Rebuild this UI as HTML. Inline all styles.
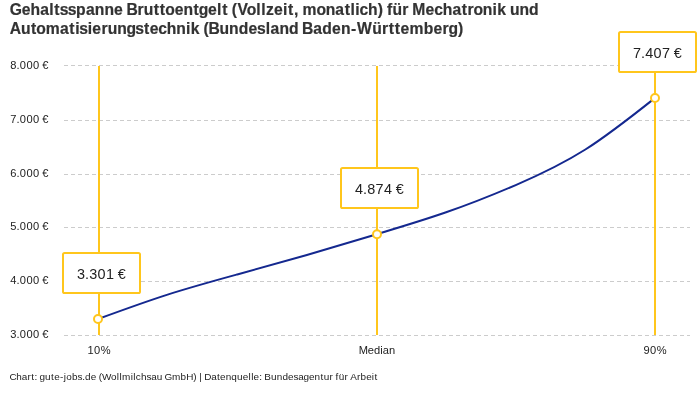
<!DOCTYPE html>
<html lang="de"><head><meta charset="utf-8"><title>Gehaltsspanne Mechatronik und Automatisierungstechnik</title>
<style>html,body{margin:0;padding:0;background:#fff;overflow:hidden}svg{display:block}text{font-family:"Liberation Sans",sans-serif;white-space:pre}</style>
</head><body>
<svg width="700" height="400" viewBox="0 0 700 400">
<defs><pattern id="dash" x="64" y="0" width="7" height="1" patternUnits="userSpaceOnUse"><rect x="0" y="0" width="4" height="1" fill="#cccccc"/></pattern></defs>
<rect width="700" height="400" fill="#fff"/>
<text x="9.66 21.64 30.47 40.22 49.33 54.35 59.64 67.65 76.12 85.96 94.86 104.39 114.08 122.65 126.4 137.57 143.83 153.81 159.87 165.22 174.66 183.5 193.5 198.75 208.05 217.11 222.13 227.51 231.83 237.57 246.87 256.36 261.19 265.96 274.07 283.04 287.96 293.93 298.29 302.55 316.39 325.67 335.37 344.69 350.61 355.32 359.57 368.04 377.69 382.72 387.05 392.54 402.27 408.26 412.36 425.57 434.21 442.68 452.38 461.7 467.52 473.48 482.76 492.43 497.15 505.83 509.88 519.42 529.05" y="14.8" font-size="15.68" font-weight="bold" fill="#333333" stroke="#333333" stroke-width="0.2">Gehaltsspanne Bruttoentgelt (Vollzeit, monatlich) für Mechatronik und</text>
<text x="9.82 20.93 30.91 36.28 45.76 60.03 69.34 75.13 79.27 87.77 92.37 101.41 107.67 117.21 126.39 135.21 143.96 149.73 158.36 166.84 176.37 186.04 190.76 199.45 203.61 208.6 219.57 229.11 238.75 248.53 257.07 265.7 270.5 279.39 289.02 298.38 302.12 313.31 322.29 332.08 340.92 351.01 357.11 372.23 382 388.73 394.79 400.57 409.6 423.8 433.59 442.52 448.53 458.05" y="34" font-size="15.68" font-weight="bold" fill="#333333" stroke="#333333" stroke-width="0.2">Automatisierungstechnik (Bundesland Baden-Württemberg)</text>
<rect x="64" y="65" width="626" height="1" fill="url(#dash)"/>
<rect x="64" y="120" width="626" height="1" fill="url(#dash)"/>
<rect x="64" y="174" width="626" height="1" fill="url(#dash)"/>
<rect x="64" y="227" width="626" height="1" fill="url(#dash)"/>
<rect x="64" y="281" width="626" height="1" fill="url(#dash)"/>
<rect x="64" y="335" width="626" height="1" fill="url(#dash)"/>
<text x="10.24 16.56 19.82 26.42 33.03 39.17 42.36" y="69" font-size="11.11" fill="#222222">8.000 €</text>
<text x="10.24 16.56 19.82 26.42 33.03 39.17 42.36" y="122.9" font-size="11.11" fill="#222222">7.000 €</text>
<text x="10.24 16.56 19.82 26.42 33.03 39.17 42.36" y="176.9" font-size="11.11" fill="#222222">6.000 €</text>
<text x="10.24 16.56 19.82 26.42 33.03 39.17 42.36" y="230" font-size="11.11" fill="#222222">5.000 €</text>
<text x="10.24 16.56 19.82 26.42 33.03 39.17 42.36" y="284" font-size="11.11" fill="#222222">4.000 €</text>
<text x="10.24 16.56 19.82 26.42 33.03 39.17 42.36" y="338" font-size="11.11" fill="#222222">3.000 €</text>
<rect x="98" y="66" width="2" height="269" fill="#ffc61c"/>
<rect x="376" y="66" width="2" height="269" fill="#ffc61c"/>
<rect x="654" y="66" width="2" height="269" fill="#ffc61c"/>
<path d="M98.00,319.00 C121.21,310.51 144.42,302.02 167.62,294.60 C190.83,287.18 214.04,280.82 237.25,274.45 C260.46,268.08 283.67,261.69 306.88,254.99 C330.08,248.29 353.29,241.28 376.50,234.30 C399.71,227.32 422.92,220.37 446.12,212.31 C469.33,204.25 492.54,195.09 515.75,185.07 C538.96,175.05 562.17,164.16 585.38,149.50 C608.58,134.84 631.79,116.39 655.00,97.95" fill="none" stroke="#14288f" stroke-width="2" stroke-linejoin="round"/>
<circle cx="98" cy="319" r="4" fill="#fff" stroke="#ffc61c" stroke-width="2"/>
<circle cx="377" cy="234.2" r="4" fill="#fff" stroke="#ffc61c" stroke-width="2"/>
<circle cx="655" cy="97.95" r="4" fill="#fff" stroke="#ffc61c" stroke-width="2"/>
<rect x="63" y="253" width="77" height="40" rx="1.6" fill="#fff" stroke="#ffc61c" stroke-width="2"/>
<rect x="341" y="168" width="77" height="40" rx="1.6" fill="#fff" stroke="#ffc61c" stroke-width="2"/>
<rect x="619" y="32" width="77" height="40" rx="1.6" fill="#fff" stroke="#ffc61c" stroke-width="2"/>
<text x="76.95 85.06 89.16 97.55 105.95 113.82 117.84" y="278.7" font-size="14.42" fill="#222222">3.301 €</text>
<text x="354.95 363.06 367.16 375.55 383.95 391.82 395.84" y="193.9" font-size="14.42" fill="#222222">4.874 €</text>
<text x="632.95 641.06 645.16 653.55 661.95 669.82 673.84" y="58" font-size="14.42" fill="#222222">7.407 €</text>
<text x="87.51 94.09 100.65" y="354" font-size="11.11" fill="#222222">10%</text>
<text x="358.72 367.74 373.95 380.37 382.82 388.89" y="354" font-size="11.11" fill="#222222">Median</text>
<text x="643.51 650.09 656.65" y="354" font-size="11.11" fill="#222222">90%</text>
<text x="9.51 16.27 21.78 27.42 31.31 34.52 37.16 39.58 45.04 50.99 54.14 60.04 63.83 66.22 71.93 77.51 82.29 85.07 90.71 96.02 98.69 101.91 110.92 116.72 119.41 122.1 130.76 133.36 135.86 140.94 146.49 151.31 156.83 162.24 164.4 171.96 180.6 186.21 193.36 196.49 199.33 201.98 204.31 211.17 216.97 220.06 225.63 231.37 237.12 242.7 248.44 251.13 253.59 259.18 261.81 264.32 270.97 276.65 282.4 288.04 293.5 298.33 303.61 308.96 314.55 320.53 323.73 329.52 332.81 335.61 338.69 344.48 348.04 350.22 356.91 360.55 366.19 371.83 374.57" y="379.7" font-size="9.95" fill="#222222">Chart: gute-jobs.de (Wollmilchsau GmbH) | Datenquelle: Bundesagentur für Arbeit</text>
</svg>
</body></html>
